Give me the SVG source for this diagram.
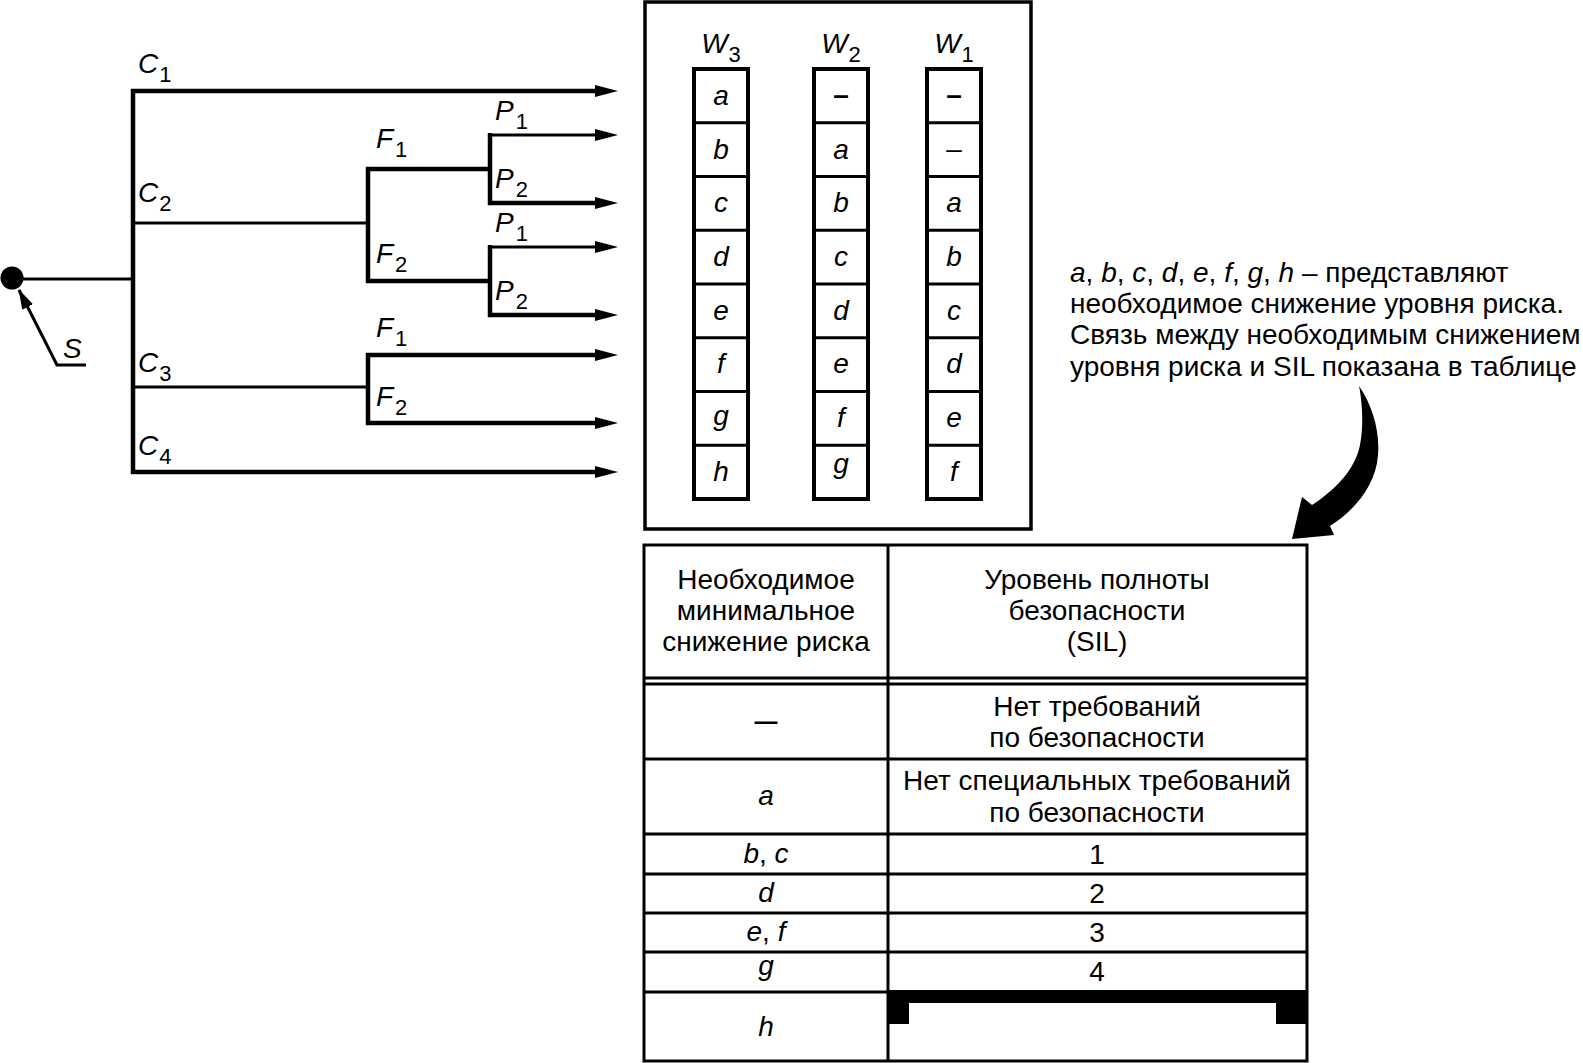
<svg xmlns="http://www.w3.org/2000/svg" width="1583" height="1063" viewBox="0 0 1583 1063">
<style>
text{font-family:"Liberation Sans",Arial,sans-serif;fill:#000}
.lbl{font-size:28px;font-style:italic}
.sub{font-size:22px;font-style:normal}
.cell{font-size:28px;font-style:italic;text-anchor:middle}
.t{font-size:28px;text-anchor:middle}
.ti{font-size:28px;text-anchor:middle;font-style:italic}
.note{font-size:28px}
.it{font-style:italic}
.thick{stroke:#000;stroke-width:4.5;fill:none}
.thin{stroke:#000;stroke-width:3;fill:none}
.arr{marker-end:url(#ah)}
.box{fill:#fff;stroke:#000;stroke-width:3.5}
.cl{fill:#fff;stroke:#000;stroke-width:4}
.tl{stroke:#000;stroke-width:3;fill:none}
</style>
<defs>
<marker id="ah" markerUnits="userSpaceOnUse" markerWidth="24" markerHeight="14" refX="5" refY="6" orient="auto">
<path d="M0,0 L23,6 L0,12 Z" fill="#000"/>
</marker>
<marker id="ahs" markerUnits="userSpaceOnUse" markerWidth="22" markerHeight="14" refX="19" refY="6" orient="auto">
<path d="M0,0 L20,6 L0,12 Z" fill="#000"/>
</marker>
</defs>
<rect width="1583" height="1063" fill="#fff"/>

<g id="connectors">
<path class="thin" d="M12,279 H133"/>
<path class="thick" d="M133,89 V474"/>
<path class="thick arr" d="M131,91 H600"/>
<path class="thin" d="M133,223 H368"/>
<path class="thick" d="M368,167 V283"/>
<path class="thick" d="M366,169 H490"/>
<path class="thick" d="M366,281 H490"/>
<path class="thick" d="M490,133 V205"/>
<path class="thin arr" d="M488,135 H600"/>
<path class="thick arr" d="M488,203 H600"/>
<path class="thick" d="M490,245 V317"/>
<path class="thin arr" d="M488,247 H600"/>
<path class="thick arr" d="M488,315 H600"/>
<path class="thin" d="M133,387 H368"/>
<path class="thick" d="M368,353 V425"/>
<path class="thick arr" d="M366,355 H600"/>
<path class="thick arr" d="M366,423 H600"/>
<path class="thick arr" d="M131,472 H600"/>
<path class="thin" d="M86,365 H57 L19,290" marker-end="url(#ahs)"/>
</g>

<g id="node-S">
<circle cx="12" cy="278" r="11.5" fill="#000"/>
<text class="lbl" x="63" y="358">S</text>
</g>

<g id="labels">
<text class="lbl" x="138" y="73">C<tspan class="sub" dx="1" dy="9">1</tspan></text>
<text class="lbl" x="138" y="202">C<tspan class="sub" dx="1" dy="9">2</tspan></text>
<text class="lbl" x="138" y="372">C<tspan class="sub" dx="1" dy="9">3</tspan></text>
<text class="lbl" x="138" y="455">C<tspan class="sub" dx="1" dy="9">4</tspan></text>
<text class="lbl" x="376" y="148">F<tspan class="sub" dx="2" dy="9">1</tspan></text>
<text class="lbl" x="376" y="263">F<tspan class="sub" dx="2" dy="9">2</tspan></text>
<text class="lbl" x="376" y="337">F<tspan class="sub" dx="2" dy="9">1</tspan></text>
<text class="lbl" x="376" y="406">F<tspan class="sub" dx="2" dy="9">2</tspan></text>
<text class="lbl" x="495" y="120">P<tspan class="sub" dx="2" dy="9">1</tspan></text>
<text class="lbl" x="495" y="188">P<tspan class="sub" dx="2" dy="9">2</tspan></text>
<text class="lbl" x="495" y="232">P<tspan class="sub" dx="2" dy="9">1</tspan></text>
<text class="lbl" x="495" y="300">P<tspan class="sub" dx="2" dy="9">2</tspan></text>
</g>

<g id="matrix">
<rect class="box" x="645" y="2" width="386" height="527"/>
<g id="col-W3">
<text class="lbl" x="721" y="53" text-anchor="middle">W<tspan class="sub" dx="1" dy="9">3</tspan></text>
<rect class="cl" x="694" y="69" width="54" height="430"/>
<path class="tl" stroke-width="4" d="M694,122.75 H748 M694,176.5 H748 M694,230.25 H748 M694,284 H748 M694,337.75 H748 M694,391.5 H748 M694,445.25 H748"/>
<text class="cell" x="721" y="105">a</text>
<text class="cell" x="721" y="159">b</text>
<text class="cell" x="721" y="212">c</text>
<text class="cell" x="721" y="266">d</text>
<text class="cell" x="721" y="320">e</text>
<text class="cell" x="721" y="373">f</text>
<text class="cell" x="721" y="425">g</text>
<text class="cell" x="721" y="481">h</text>
</g>
<g id="col-W2">
<text class="lbl" x="841" y="53" text-anchor="middle">W<tspan class="sub" dx="1" dy="9">2</tspan></text>
<rect class="cl" x="814" y="69" width="54" height="430"/>
<path class="tl" stroke-width="4" d="M814,122.75 H868 M814,176.5 H868 M814,230.25 H868 M814,284 H868 M814,337.75 H868 M814,391.5 H868 M814,445.25 H868"/>
<text class="cell" x="841" y="104" style="font-style:normal;font-weight:bold">–</text>
<text class="cell" x="841" y="159">a</text>
<text class="cell" x="841" y="212">b</text>
<text class="cell" x="841" y="266">c</text>
<text class="cell" x="841" y="320">d</text>
<text class="cell" x="841" y="373">e</text>
<text class="cell" x="841" y="427">f</text>
<text class="cell" x="841" y="473">g</text>
</g>
<g id="col-W1">
<text class="lbl" x="954" y="53" text-anchor="middle">W<tspan class="sub" dx="1" dy="9">1</tspan></text>
<rect class="cl" x="927" y="69" width="54" height="430"/>
<path class="tl" stroke-width="4" d="M927,122.75 H981 M927,176.5 H981 M927,230.25 H981 M927,284 H981 M927,337.75 H981 M927,391.5 H981 M927,445.25 H981"/>
<text class="cell" x="954" y="104" style="font-style:normal;font-weight:bold">–</text>
<text class="cell" x="954" y="158" style="font-style:normal">–</text>
<text class="cell" x="954" y="212">a</text>
<text class="cell" x="954" y="266">b</text>
<text class="cell" x="954" y="320">c</text>
<text class="cell" x="954" y="373">d</text>
<text class="cell" x="954" y="427">e</text>
<text class="cell" x="954" y="481">f</text>
</g>
</g>

<g id="note">
<text class="note" x="1070" y="282"><tspan class="it">a</tspan>, <tspan class="it">b</tspan>, <tspan class="it">c</tspan>, <tspan class="it">d</tspan>, <tspan class="it">e</tspan>, <tspan class="it">f</tspan>, <tspan class="it">g</tspan>, <tspan class="it">h</tspan> – представляют</text>
<text class="note" x="1070" y="313">необходимое снижение уровня риска.</text>
<text class="note" x="1070" y="344">Связь между необходимым снижением</text>
<text class="note" x="1070" y="376">уровня риска и SIL показана в таблице</text>
</g>

<g id="curved-arrow">
<path d="M1359,386 C1372,405 1380,430 1378,455 C1376,485 1355,510 1330,526 L1334,535 L1292,539 L1302,497 L1312,505 C1335,490 1355,470 1360,445 C1364,425 1362,400 1359,386 Z" fill="#000"/>
</g>

<g id="sil-table">
<rect x="644" y="545" width="663" height="516" fill="#fff" stroke="#000" stroke-width="3"/>
<path class="tl" d="M888,545 V1061 M644,678 H1307 M644,684 H1307 M644,759 H1307 M644,834 H1307 M644,874 H1307 M644,913 H1307 M644,952 H1307 M644,992 H888"/>
<rect x="888" y="990" width="419" height="13" fill="#000"/>
<rect x="888" y="1003" width="21" height="21" fill="#000"/>
<rect x="1276" y="1003" width="31" height="21" fill="#000"/>
<text class="t" x="766" y="589">Необходимое</text>
<text class="t" x="766" y="620">минимальное</text>
<text class="t" x="766" y="651">снижение риска</text>
<text class="t" x="1097" y="589">Уровень полноты</text>
<text class="t" x="1097" y="620">безопасности</text>
<text class="t" x="1097" y="651">(SIL)</text>
<text class="t" x="766" y="729" style="font-size:23px;font-weight:bold">—</text>
<text class="t" x="1097" y="716">Нет требований</text>
<text class="t" x="1097" y="747">по безопасности</text>
<text class="ti" x="766" y="805">a</text>
<text class="t" x="1097" y="790">Нет специальных требований</text>
<text class="t" x="1097" y="822">по безопасности</text>
<text class="ti" x="766" y="863">b<tspan style="font-style:normal">, </tspan>c</text>
<text class="t" x="1097" y="864">1</text>
<text class="ti" x="766" y="902">d</text>
<text class="t" x="1097" y="903">2</text>
<text class="ti" x="766" y="941">e<tspan style="font-style:normal">, </tspan>f</text>
<text class="t" x="1097" y="942">3</text>
<text class="ti" x="766" y="975">g</text>
<text class="t" x="1097" y="981">4</text>
<text class="ti" x="766" y="1036">h</text>
</g>
</svg>
